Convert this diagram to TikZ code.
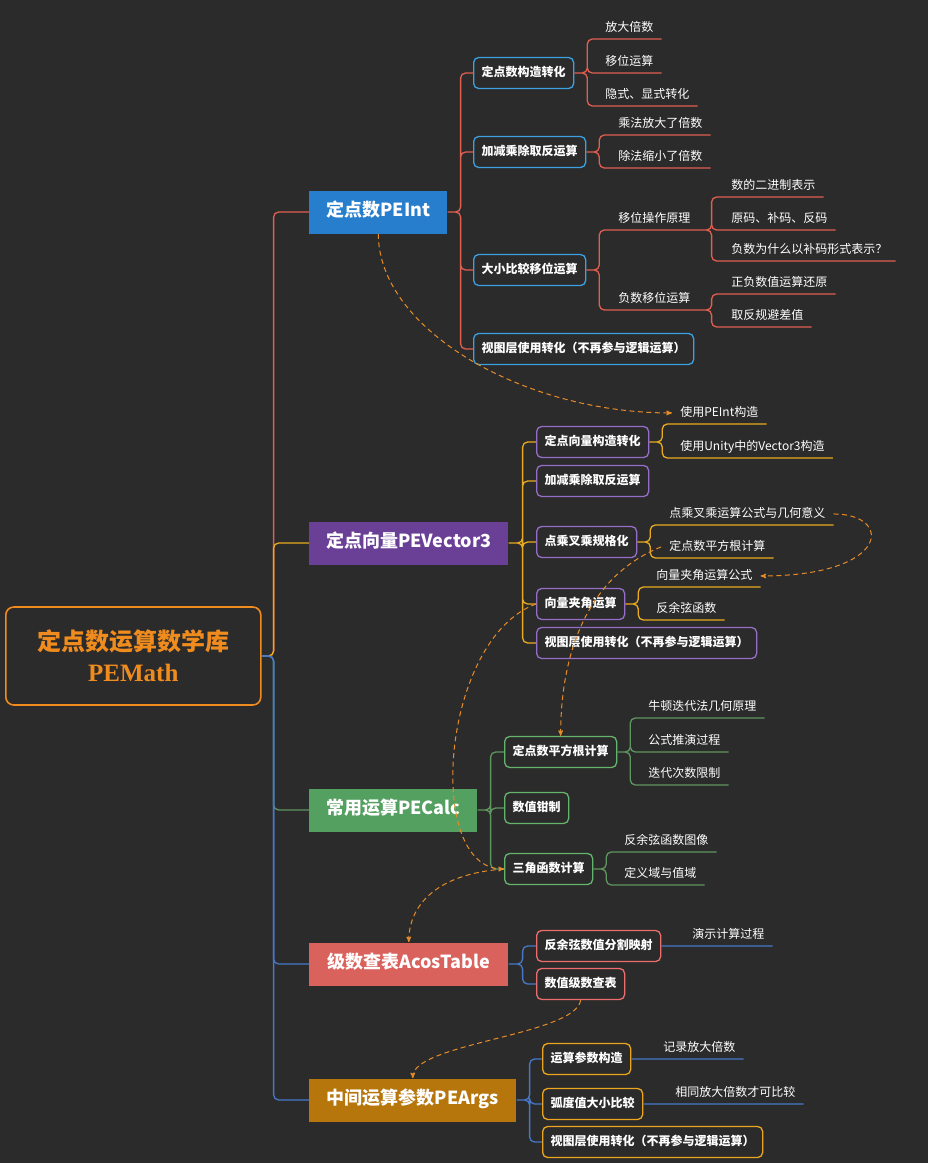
\documentclass[tikz,border=0pt]{standalone}
\usepackage{fontspec}
\setmainfont{Noto Sans CJK SC}
\newfontfamily\latinserif{Liberation Serif}
\usetikzlibrary{arrows}
\definecolor{bg_dark}{RGB}{43,43,43}
\definecolor{root_orange}{RGB}{240,140,30}
\definecolor{node_blue}{RGB}{38,126,204}
\definecolor{node_purple}{RGB}{106,64,150}
\definecolor{node_green}{RGB}{84,160,96}
\definecolor{node_red}{RGB}{218,98,92}
\definecolor{node_brown}{RGB}{182,118,12}
\definecolor{edge_red}{RGB}{225,95,80}
\definecolor{edge_yell}{RGB}{235,170,30}
\definecolor{edge_green}{RGB}{95,150,95}
\definecolor{edge_blue}{RGB}{70,120,200}
\definecolor{box_blue}{RGB}{60,160,225}
\definecolor{box_purple}{RGB}{150,110,200}
\definecolor{box_green}{RGB}{100,180,110}
\definecolor{box_red}{RGB}{235,110,110}
\definecolor{box_orange}{RGB}{235,165,30}
\definecolor{link_orange}{RGB}{230,140,40}

\begin{document}
\begin{tikzpicture}[x=1pt,y=-1pt,semithick,>=stealth']
    \tikzstyle{root}=[anchor=west,draw=root_orange,line width=1.6pt,rounded corners=8pt,fill=bg_dark,text=root_orange,align=center,minimum width=255pt,minimum height=98pt,font=\fontsize{24}{31}\selectfont\bfseries]
    \tikzstyle{topic}=[anchor=west,text=white,minimum height=43pt,text height=13pt,text depth=4pt,font=\fontsize{18}{20}\selectfont\bfseries]
    \tikzstyle{sub}=[anchor=west,draw,line width=1.3pt,rounded corners=5pt,text=white,minimum height=31pt,inner xsep=8pt,text height=9pt,text depth=2.5pt,font=\fontsize{12}{14}\selectfont\bfseries]
    \tikzstyle{leaf}=[anchor=south west,text=white,inner xsep=8pt,inner ysep=5pt,text height=9pt,text depth=2.5pt,font=\fontsize{12}{14}\selectfont]
    \tikzstyle{branch}=[line width=1.3pt,rounded corners=5pt]
    \tikzstyle{link}=[->,draw=link_orange,dash pattern=on 5pt off 3.5pt,line width=1pt]

    \fill[bg_dark] (0,0) rectangle (928,1163);

    \node[root] (R) at (5,656) {定点数运算数学库\\{\latinserif\bfseries\fontsize{25}{31}\selectfont PEMath}};

    \node[topic,fill=node_blue,minimum width=138pt]   (I) at (309,212)  {定点数PEInt};
    \node[topic,fill=node_purple,minimum width=199pt] (V) at (309,543)  {定点向量PEVector3};
    \node[topic,fill=node_green,minimum width=168pt]  (C) at (309,810)  {常用运算PECalc};
    \node[topic,fill=node_red,minimum width=199pt]    (T) at (309,964)  {级数查表AcosTable};
    \node[topic,fill=node_brown,minimum width=207pt]  (E) at (309,1100) {中间运算参数PEArgs};

    % PEInt
    \node[sub,draw=box_blue] (Ia) at (473,73)  {定点数构造转化};
    \node[sub,draw=box_blue] (Ib) at (473,152) {加减乘除取反运算};
    \node[sub,draw=box_blue] (Ic) at (473,270) {大小比较移位运算};
    \node[sub,draw=box_blue] (Id) at (473,349) {视图层使用转化（不再参与逻辑运算）};
    \node[leaf] (Ia1) at (597,39)  {放大倍数};
    \node[leaf] (Ia2) at (597,73)  {移位运算};
    \node[leaf] (Ia3) at (597,106) {隐式、显式转化};
    \node[leaf] (Ib1) at (610,135) {乘法放大了倍数};
    \node[leaf] (Ib2) at (610,168) {除法缩小了倍数};
    \node[leaf] (Ic1) at (610,230) {移位操作原理};
    \node[leaf] (Ic2) at (610,310) {负数移位运算};
    \node[leaf] (Ic11) at (723,197) {数的二进制表示};
    \node[leaf] (Ic12) at (723,230) {原码、补码、反码};
    \node[leaf] (Ic13) at (723,261) {负数为什么以补码形式表示？};
    \node[leaf] (Ic21) at (723,294) {正负数值运算还原};
    \node[leaf] (Ic22) at (723,327) {取反规避差值};

    % PEVector3
    \node[sub,draw=box_purple] (Va) at (536,442) {定点向量构造转化};
    \node[sub,draw=box_purple] (Vb) at (536,481) {加减乘除取反运算};
    \node[sub,draw=box_purple] (Vc) at (536,542) {点乘叉乘规格化};
    \node[sub,draw=box_purple] (Vd) at (536,604) {向量夹角运算};
    \node[sub,draw=box_purple] (Ve) at (536,643) {视图层使用转化（不再参与逻辑运算）};
    \node[leaf] (Va1) at (672,424) {使用PEInt构造};
    \node[leaf] (Va2) at (672,458) {使用Unity中的Vector3构造};
    \node[leaf] (Vc1) at (661,525) {点乘叉乘运算公式与几何意义};
    \node[leaf] (Vc2) at (661,558) {定点数平方根计算};
    \node[leaf] (Vd1) at (648,587) {向量夹角运算公式};
    \node[leaf] (Vd2) at (648,620) {反余弦函数};

    % PECalc
    \node[sub,draw=box_green] (Ca) at (504,752) {定点数平方根计算};
    \node[sub,draw=box_green] (Cb) at (504,808) {数值钳制};
    \node[sub,draw=box_green] (Cc) at (504,869) {三角函数计算};
    \node[leaf] (Ca1) at (640,718) {牛顿迭代法几何原理};
    \node[leaf] (Ca2) at (640,752) {公式推演过程};
    \node[leaf] (Ca3) at (640,785) {迭代次数限制};
    \node[leaf] (Cc1) at (616,852) {反余弦函数图像};
    \node[leaf] (Cc2) at (616,885) {定义域与值域};

    % AcosTable
    \node[sub,draw=box_red] (Ta) at (536,946) {反余弦数值分割映射};
    \node[sub,draw=box_red] (Tb) at (536,984) {数值级数查表};
    \node[leaf] (Ta1) at (684,946) {演示计算过程};

    % PEArgs
    \node[sub,draw=box_orange] (Ea) at (542,1059) {运算参数构造};
    \node[sub,draw=box_orange] (Eb) at (542,1104) {弧度值大小比较};
    \node[sub,draw=box_orange] (Ec) at (542,1142) {视图层使用转化（不再参与逻辑运算）};
    \node[leaf] (Ea1) at (655,1059) {记录放大倍数};
    \node[leaf] (Eb1) at (667,1104) {相同放大倍数才可比较};

    % trunk
    \draw[branch,edge_red]   (R.east) -- ++(12,0) |- (I.west);
    \draw[branch,edge_yell]  (R.east) -- ++(12,0) |- (V.west);
    \draw[branch,edge_green] (R.east) -- ++(12,0) |- (C.west);
    \draw[branch,edge_blue]  (R.east) -- ++(12,0) |- (T.west);
    \draw[branch,edge_blue]  (R.east) -- ++(12,0) |- (E.west);

    \draw[branch,edge_red]
     (I.east) -- ++(13,0) |- (Ia.west)
     (I.east) -- ++(13,0) |- (Ib.west)
     (I.east) -- ++(13,0) |- (Ic.west)
     (I.east) -- ++(13,0) |- (Id.west)
     (Ia.east) -- ++(13,0) |- (Ia1.south east)
     (Ia.east) -- ++(13,0) |- (Ia2.south east)
     (Ia.east) -- ++(13,0) |- (Ia3.south east)
     (Ib.east) -- ++(13,0) |- (Ib1.south east)
     (Ib.east) -- ++(13,0) |- (Ib2.south east)
     (Ic.east) -- ++(13,0) |- (Ic1.south east)
     (Ic.east) -- ++(13,0) |- (Ic2.south east)
     (Ic1.south east) -- ++(13,0) |- (Ic11.south east)
     (Ic1.south east) -- ++(13,0) |- (Ic12.south east)
     (Ic1.south east) -- ++(13,0) |- (Ic13.south east)
     (Ic2.south east) -- ++(13,0) |- (Ic21.south east)
     (Ic2.south east) -- ++(13,0) |- (Ic22.south east);

    \draw[branch,edge_yell]
     (V.east) -- ++(14,0) |- (Va.west)
     (V.east) -- ++(14,0) |- (Vb.west)
     (V.east) -- ++(14,0) |- (Vc.west)
     (V.east) -- ++(14,0) |- (Vd.west)
     (V.east) -- ++(14,0) |- (Ve.west)
     (Va.east) -- ++(13,0) |- (Va1.south east)
     (Va.east) -- ++(13,0) |- (Va2.south east)
     (Vc.east) -- ++(13,0) |- (Vc1.south east)
     (Vc.east) -- ++(13,0) |- (Vc2.south east)
     (Vd.east) -- ++(13,0) |- (Vd1.south east)
     (Vd.east) -- ++(13,0) |- (Vd2.south east);

    \draw[branch,edge_green]
     (C.east) -- ++(13,0) |- (Ca.west)
     (C.east) -- ++(13,0) |- (Cb.west)
     (C.east) -- ++(13,0) |- (Cc.west)
     (Ca.east) -- ++(13,0) |- (Ca1.south east)
     (Ca.east) -- ++(13,0) |- (Ca2.south east)
     (Ca.east) -- ++(13,0) |- (Ca3.south east)
     (Cc.east) -- ++(13,0) |- (Cc1.south east)
     (Cc.east) -- ++(13,0) |- (Cc2.south east);

    \draw[branch,edge_blue]
     (T.east) -- ++(14,0) |- (Ta.west)
     (T.east) -- ++(14,0) |- (Tb.west)
     (Ta.east) -- (Ta1.south east)
     (E.east) -- ++(13,0) |- (Ea.west)
     (E.east) -- ++(13,0) |- (Eb.west)
     (E.east) -- ++(13,0) |- (Ec.west)
     (Ea.east) -- (Ea1.south east)
     (Eb.east) -- (Eb1.south east);

    % relations
    \draw[link] (I.south) .. controls +(0,95) and +(-150,0) .. (Va1.west);
    \draw[link] (Vc1.east) .. controls +(60,0) and +(130,0) .. (Vd1.east);
    \draw[link] (Vc2.west) .. controls +(-75,30) and +(0,-80) .. (Ca.north);
    \draw[link] (Vd.west) .. controls +(-95,35) and +(-80,0) .. (Cc.west);
    \draw[link] (Cc.west) .. controls +(-70,5) and +(0,-35) .. (T.north);
    \draw[link] (Tb.south) .. controls +(-5,35) and +(0,-35) .. (E.north);
\end{tikzpicture}
\end{document}
